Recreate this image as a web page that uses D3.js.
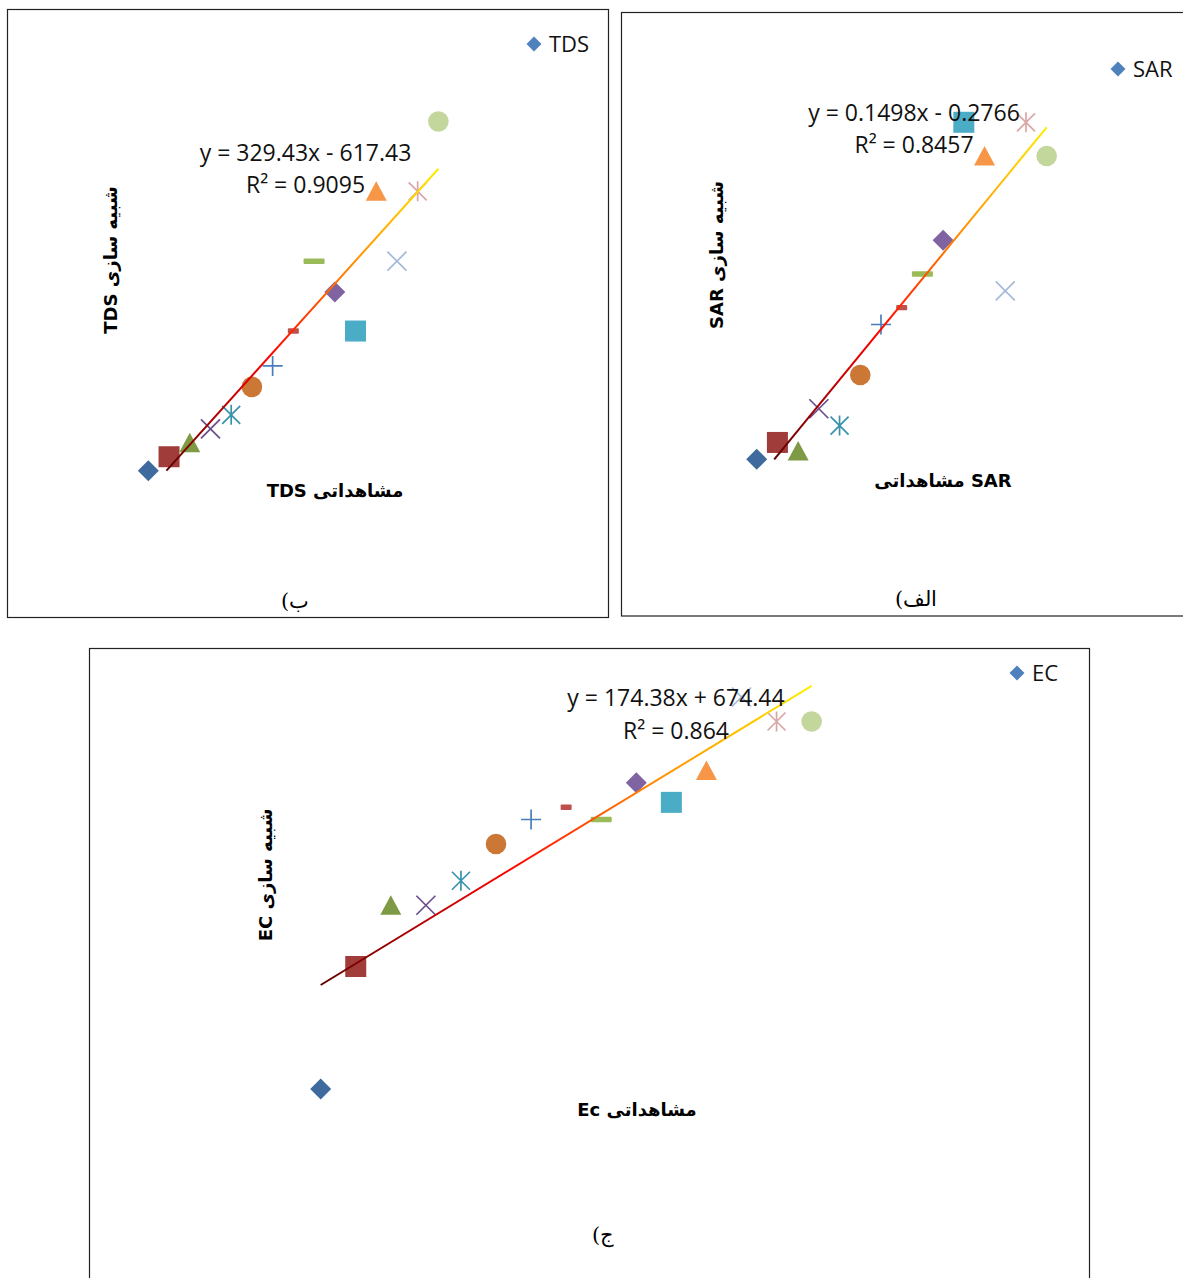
<!DOCTYPE html>
<html><head><meta charset="utf-8">
<script src="https://cdn.jsdelivr.net/npm/d3@7"></script>
<style>body{margin:0;background:#fff}</style>
</head><body>
<svg id="c" width="1183" height="1278"></svg>
<script>
// ---- data ----
const observed = [1, 2, 3, 4, 5, 6, 7, 8, 9, 10, 11, 12, 13, 14, 15];
const tdsSimulated = [0, 200, 400, 600, 800, 1200, 1500, 2000, 3000, 2560, 2000, 4000, 3000, 4000, 5000];
const sarSimulated = [0, 0.1, 0.05, 0.3, 0.2, 0.5, 0.8, 0.9, 1.1, 1.3, 2.0, 1.8, 1.0, 2.0, 1.8];
const ecSimulated = [0, 1000, 1500, 1500, 1700, 2000, 2200, 2300, 2200, 2500, 2340, 2600, 3200, 3000, 3000];
const seriesMarkers = ['diamond','square','triangle','x','star','circle','plus','dash','longdash','diamond','square','triangle','x','star','circle'];
const seriesColors = ['#3F6A9E','#A03D3A','#7E9A45','#6A4F8C','#3A93AC','#CB7736','#4A7EBB','#C0504D','#9BBB59','#8064A2','#4BACC6','#F79646','#A7B9DA','#D9A7A6','#C3D69B'];
const fitSlopes = [329.43, 0.1498, 174.38];
const fitIntercepts = [-617.43, -0.2766, 674.44];
const equationLabels = ['y = 329.43x - 617.43', 'y = 0.1498x - 0.2766', 'y = 174.38x + 674.44'];
const r2Labels = ['R² = 0.9095', 'R² = 0.8457', 'R² = 0.864'];
const legendLabels = ['TDS', 'SAR', 'EC'];
const xTitles = ['مشاهداتی TDS', 'SAR مشاهداتی', 'مشاهداتی Ec'];
const yTitles = ['شبیه سازی TDS', 'شبیه سازی SAR', 'شبیه سازی EC'];
const panelLabels = ['ب)', 'الف)', 'ج)'];
const yMaxes = [6000, 2.5, 4000];
const simulated = [tdsSimulated, sarSimulated, ecSimulated];

// ---- layout ----
const layout = [
  {frame:[7.5,9.5,601,608], xr:[127.6,459.1], yr:[470.7,51.7], legend:[534,44], eq:[305.5,161,193], xt:[335,491], yt:[111,260], lab:[295,601]},
  {frame:[621.5,12.5,620,603.5], xr:[736.0,1067.4], yr:[459.3,38.05], legend:[1118,69], eq:[914,121,153], xt:[943,481], yt:[717,255], lab:[916,599]},
  {frame:[89.5,648.5,1000,700], xr:[285.6,846.7], yr:[1089,599], legend:[1017,673], eq:[676,706,739], xt:[637,1110], yt:[266,875], lab:[603,1235]}
];

const svg = d3.select('#c');
const defs = svg.append('defs');

function marker(g, type, color, x, y) {
  const s = 10.5;
  if (type === 'diamond') {
    g.append('path').attr('d', `M${x},${y-s}L${x+s},${y}L${x},${y+s}L${x-s},${y}Z`).attr('fill', color);
  } else if (type === 'square') {
    g.append('rect').attr('x', x-s).attr('y', y-s).attr('width', 2*s).attr('height', 2*s).attr('fill', color);
  } else if (type === 'triangle') {
    g.append('path').attr('d', `M${x},${y-10}L${x+10.5},${y+9.5}L${x-10.5},${y+9.5}Z`).attr('fill', color);
  } else if (type === 'circle') {
    g.append('circle').attr('cx', x).attr('cy', y).attr('r', 10.3).attr('fill', color);
  } else if (type === 'x') {
    const a = 9.5;
    g.append('path').attr('d', `M${x-a},${y-a}L${x+a},${y+a}M${x+a},${y-a}L${x-a},${y+a}`).attr('stroke', color).attr('stroke-width', 1.7).attr('fill','none');
  } else if (type === 'star') {
    const a = 9;
    g.append('path').attr('d', `M${x-a},${y-a}L${x+a},${y+a}M${x+a},${y-a}L${x-a},${y+a}M${x},${y-a-1}L${x},${y+a+1}`).attr('stroke', color).attr('stroke-width', 1.7).attr('fill','none');
  } else if (type === 'plus') {
    const a = 10;
    g.append('path').attr('d', `M${x-a},${y}L${x+a},${y}M${x},${y-a}L${x},${y+a}`).attr('stroke', color).attr('stroke-width', 1.7).attr('fill','none');
  } else if (type === 'dash') {
    g.append('rect').attr('x', x-5.5).attr('y', y-2.7).attr('width', 11).attr('height', 5.4).attr('rx', 1).attr('fill', color);
  } else if (type === 'longdash') {
    g.append('rect').attr('x', x-10.5).attr('y', y-2.7).attr('width', 21).attr('height', 5.4).attr('rx', 1).attr('fill', color);
  }
}

layout.forEach((L, i) => {
  const g = svg.append('g');
  const [fx, fy, fw, fh] = L.frame;
  g.append('rect').attr('x', fx).attr('y', fy).attr('width', fw).attr('height', fh)
    .attr('fill', '#fff').attr('stroke', '#222').attr('stroke-width', 1.2);

  const x = d3.scaleLinear().domain([0, 16]).range(L.xr);
  const y = d3.scaleLinear().domain([0, yMaxes[i]]).range(L.yr);

  // trendline
  const a = fitSlopes[i], b = fitIntercepts[i];
  const x0 = Math.max(d3.min(observed), -b / a);
  const x1 = d3.max(observed);
  const p0 = [x(x0), y(a * x0 + b)], p1 = [x(x1), y(a * x1 + b)];
  const gid = 'grad' + i;
  const grad = defs.append('linearGradient').attr('id', gid).attr('gradientUnits', 'userSpaceOnUse')
    .attr('x1', p0[0]).attr('y1', p0[1]).attr('x2', p1[0]).attr('y2', p1[1]);
  [[0,'#600000'],[0.38,'#FF0000'],[0.68,'#FF8C00'],[1,'#FFEE00']].forEach(([o,c]) =>
    grad.append('stop').attr('offset', o).attr('stop-color', c));

  // points
  const pts = g.append('g');
  observed.forEach((ob, k) => marker(pts, seriesMarkers[k], seriesColors[k], x(ob), y(simulated[i][k])));

  g.append('line').attr('x1', p0[0]).attr('y1', p0[1]).attr('x2', p1[0]).attr('y2', p1[1])
    .attr('stroke', `url(#${gid})`).attr('stroke-width', 2);

  // equation
  const eq = g.append('text').attr('font-family', 'Open Sans, sans-serif').attr('font-size', 23)
    .attr('fill', '#111').attr('text-anchor', 'middle');
  eq.append('tspan').attr('x', L.eq[0]).attr('y', L.eq[1]).text(equationLabels[i]);
  eq.append('tspan').attr('x', L.eq[0]).attr('y', L.eq[2]).text(r2Labels[i]);

  // legend
  const [lx, ly] = L.legend;
  g.append('path').attr('d', `M${lx},${ly-7.5}L${lx+7.5},${ly}L${lx},${ly+7.5}L${lx-7.5},${ly}Z`).attr('fill', '#4F81BD');
  g.append('text').attr('x', lx + 15).attr('y', ly).attr('dy', '0.36em')
    .attr('font-family', 'Open Sans, sans-serif').attr('font-size', 22).attr('fill', '#111').text(legendLabels[i]);

  // axis titles
  g.append('text').attr('x', L.xt[0]).attr('y', L.xt[1]).attr('dy', '0.35em')
    .attr('text-anchor', 'middle').attr('direction', 'rtl')
    .attr('font-family', 'DejaVu Sans, sans-serif').attr('font-weight', 'bold').attr('font-size', 18)
    .attr('fill', '#000').text(xTitles[i]);
  g.append('text').attr('transform', `translate(${L.yt[0]},${L.yt[1]}) rotate(-90)`).attr('dy', '0.35em')
    .attr('text-anchor', 'middle').attr('direction', 'rtl')
    .attr('font-family', 'DejaVu Sans, sans-serif').attr('font-weight', 'bold').attr('font-size', 18)
    .attr('fill', '#000').text(yTitles[i]);

  // panel label
  g.append('text').attr('x', L.lab[0]).attr('y', L.lab[1]).attr('dy', '0.35em')
    .attr('text-anchor', 'middle').attr('direction', 'rtl')
    .attr('font-family', 'DejaVu Serif, serif').attr('font-size', 21)
    .attr('fill', '#000').text(panelLabels[i]);
});
</script>
</body></html>
